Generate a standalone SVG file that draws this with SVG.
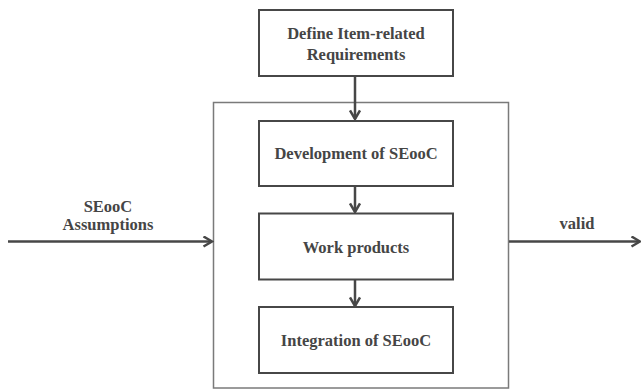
<svg xmlns="http://www.w3.org/2000/svg" width="641" height="389" viewBox="0 0 641 389">
  <style>
    .box { fill: #ffffff; stroke: #474747; stroke-width: 2; }
    .frame { fill: none; stroke: #7a7a7a; stroke-width: 1.5; }
    .conn { fill: none; stroke: #474747; stroke-width: 2.5; }
    .lbl { font-family: "Liberation Serif", "Times New Roman", serif; font-weight: bold; font-size: 16.5px; fill: #454545; text-anchor: middle; }
  </style>
  <defs>
    <marker id="arrow" viewBox="0 0 12 12" refX="10" refY="6" markerWidth="12" markerHeight="12" markerUnits="userSpaceOnUse" orient="auto">
      <path d="M1.5,1 L10,6 L1.5,11" fill="none" stroke="#474747" stroke-width="2.5"/>
    </marker>
  </defs>
  <rect width="641" height="389" fill="#ffffff"/>

  <!-- enclosing frame of the SEooC process -->
  <g id="seooc-frame">
    <rect class="frame" x="213.5" y="102.5" width="295" height="285.5"/>
  </g>

  <g id="connectors">
    <line class="conn" x1="355" y1="76" x2="355" y2="119" marker-end="url(#arrow)"/>
    <line class="conn" x1="355" y1="186" x2="355" y2="212" marker-end="url(#arrow)"/>
    <line class="conn" x1="355" y1="279" x2="355" y2="306" marker-end="url(#arrow)"/>
    <line class="conn" x1="8" y1="241.5" x2="212" y2="241.5" marker-end="url(#arrow)"/>
    <line class="conn" x1="509" y1="241.5" x2="640" y2="241.5" marker-end="url(#arrow)"/>
  </g>

  <g id="define-requirements">
    <rect class="box" x="259" y="10" width="194" height="66"/>
    <text class="lbl" x="356" y="39">Define Item-related</text>
    <text class="lbl" x="356" y="60">Requirements</text>
  </g>

  <g id="development">
    <rect class="box" x="259" y="121" width="194" height="65"/>
    <text class="lbl" x="356" y="159">Development of SEooC</text>
  </g>

  <g id="work-products">
    <rect class="box" x="259" y="213.5" width="194" height="66"/>
    <text class="lbl" x="356" y="253">Work products</text>
  </g>

  <g id="integration">
    <rect class="box" x="259" y="307" width="194" height="66"/>
    <text class="lbl" x="356" y="346">Integration of SEooC</text>
  </g>

  <g id="assumptions-label">
    <text class="lbl" x="108" y="212">SEooC</text>
    <text class="lbl" x="108" y="230">Assumptions</text>
  </g>

  <g id="valid-label">
    <text class="lbl" x="577" y="229">valid</text>
  </g>
</svg>
